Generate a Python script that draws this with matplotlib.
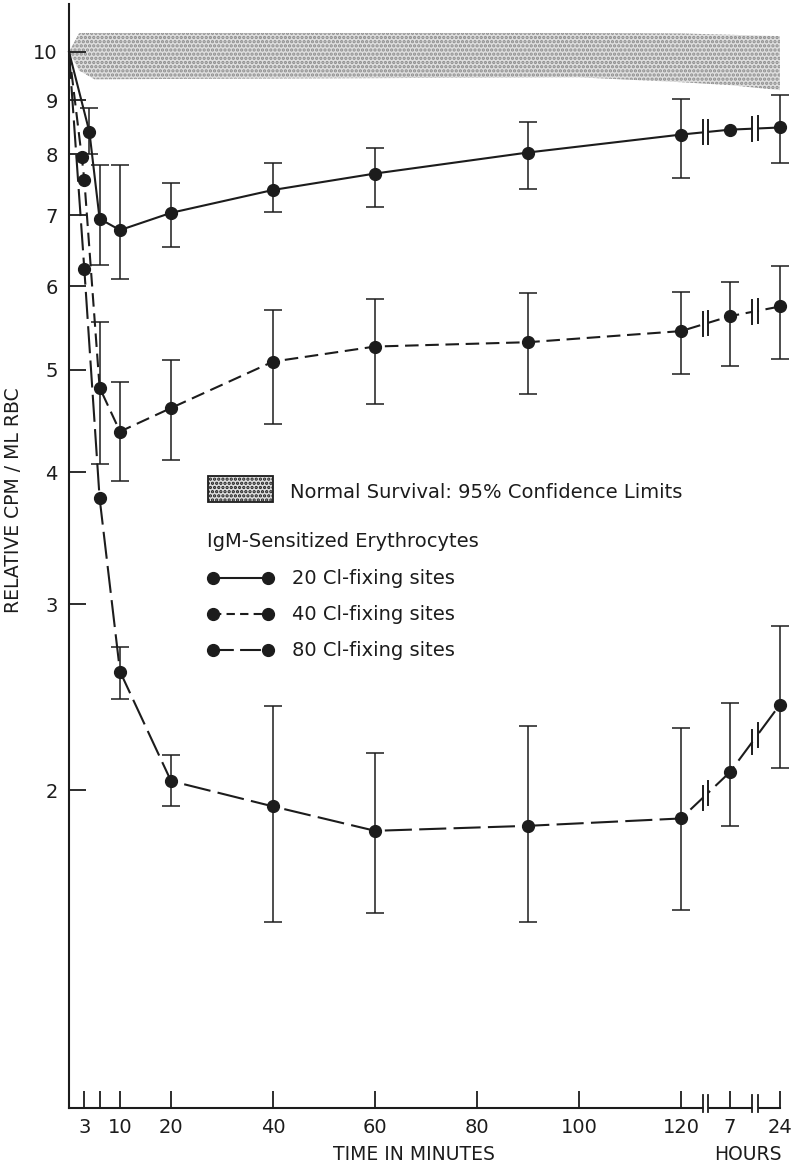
import numpy as np
import matplotlib
matplotlib.use("Agg")
import matplotlib.pyplot as plt
from matplotlib.patches import Rectangle
from matplotlib.lines import Line2D

# ---------------- data ----------------
# time in minutes (7 h = 420 min, 24 h = 1440 min)
t20 = [0, 4, 6, 10, 20, 40, 60, 90, 120, 420, 1440]
v20 = [10, 8.4, 6.95, 6.78, 7.04, 7.40, 7.67, 8.03, 8.35, 8.44, 8.48]
hi20 = [None, 8.85, 7.82, 7.82, 7.52, 7.85, 8.11, 8.58, 9.03, None, 9.11]
lo20 = [None, 8.0, 6.29, 6.10, 6.53, 7.06, 7.13, 7.42, 7.60, None, 7.85]

t40 = [0, 2.5, 3, 6, 10, 20, 40, 60, 90, 120, 420, 1440]
v40 = [10, 7.95, 7.57, 4.81, 4.37, 4.60, 5.09, 5.26, 5.31, 5.44, 5.62, 5.74]
hi40 = [None, None, None, 5.55, 4.87, 5.11, 5.70, 5.83, 5.91, 5.92, 6.06, 6.27]
lo40 = [None, None, None, 4.07, 3.92, 4.11, 4.44, 4.64, 4.74, 4.95, 5.04, 5.12]

t80 = [0, 3, 6, 10, 20, 40, 60, 90, 120, 420, 1440]
v80 = [10, 6.23, 3.78, 2.59, 2.04, 1.93, 1.83, 1.85, 1.88, 2.08, 2.41]
hi80 = [None, None, None, 2.73, 2.16, 2.40, 2.17, 2.30, 2.29, 2.42, 2.86]
lo80 = [None, None, None, 2.44, 1.93, 1.50, 1.53, 1.50, 1.54, 1.85, 2.10]

# normal survival band (95% confidence limits)
band_t = [0, 2, 5, 100, 120, 420, 1440]
band_hi = [10.0, 10.42, 10.42, 10.42, 10.41, 10.38, 10.35]
band_lo = [10.0, 9.6, 9.42, 9.46, 9.36, 9.30, 9.20]

x_ticks = [3, 6, 10, 20, 40, 60, 80, 100, 120, 420, 1440]
x_ticklabels = ["3", "", "10", "20", "40", "60", "80", "100", "120", "7", "24"]
y_ticks = [2, 3, 4, 5, 6, 7, 8, 9, 10]
y_ticklabels = ["2", "3", "4", "5", "6", "7", "8", "9", "10"]

# ---------------- broken time axis ----------------
SRC = np.array([0.0, 120.0, 420.0, 1440.0])
DST = np.array([0.0, 120.0, 129.6, 139.4])


def fwd(t):
    t = np.asarray(t, dtype=float)
    out = np.interp(t, SRC, DST)
    out = np.where(t < 0, t, out)
    out = np.where(t > SRC[-1], DST[-1] + (t - SRC[-1]) * (DST[-1] - DST[-2]) / (SRC[-1] - SRC[-2]), out)
    return out


def inv(p):
    p = np.asarray(p, dtype=float)
    out = np.interp(p, DST, SRC)
    out = np.where(p < 0, p, out)
    out = np.where(p > DST[-1], SRC[-1] + (p - DST[-1]) * (SRC[-1] - SRC[-2]) / (DST[-1] - DST[-2]), out)
    return out


INK = "#1c1c1c"
plt.rcParams["font.family"] = ["DejaVu Sans"]
plt.rcParams["hatch.linewidth"] = 1.6

W, H = 795, 1171
fig = plt.figure(figsize=(W / 100, H / 100), dpi=100)
ax = fig.add_axes([69 / W, (H - 1108) / H, 711 / W, 1104 / H])
ax.set_xscale("function", functions=(fwd, inv))
ax.set_yscale("log")
ax.set_xlim(0, 1440)
ax.set_ylim(1.0, 11.1)

# band
ax.fill_between(band_t, band_lo, band_hi, facecolor="#dedede", hatch="....",
                edgecolor="#8c8c8c", linewidth=0, zorder=1)

series = [
    (t20, v20, hi20, lo20, "-"),
    (t40, v40, hi40, lo40, (0, (6.5, 3.2))),
    (t80, v80, hi80, lo80, (0, (13, 3.5))),
]

for t, v, hi, lo, ls in series:
    ax.plot(t, v, color=INK, lw=1.5, ls=ls, zorder=3, clip_on=False)
    ax.plot(t[1:], v[1:], ls="none", marker="o", ms=8.5, color=INK, zorder=4,
            clip_on=False)
    idx = [i for i in range(len(t)) if hi[i] is not None]
    et = [t[i] for i in idx]
    ev = [v[i] for i in idx]
    err = [[v[i] - lo[i] for i in idx], [hi[i] - v[i] for i in idx]]
    eb = ax.errorbar(et, ev, yerr=err, fmt="none", ecolor=INK, elinewidth=1.1,
                     capsize=6.5, capthick=1.1, zorder=3)
    for art in eb.lines[1] + eb.lines[2]:
        art.set_clip_on(False)

# break marks on each data line
mids = [(DST[1] + DST[2]) / 2, (DST[2] + DST[3]) / 2]
f = 10 ** (12 / 1057)
for t, v, hi, lo, ls in series:
    pt = fwd(t)
    lv = np.log10(v)
    for m in mids:
        xa, xb = inv(m - 0.5), inv(m + 0.5)
        ya = 10 ** np.interp(m - 0.5, pt, lv)
        yb = 10 ** np.interp(m + 0.5, pt, lv)
        ax.plot([xa, xb], [ya, yb], color="white", lw=3.5, solid_capstyle="butt", zorder=5)
        for xx, yy in ((xa, ya), (xb, yb)):
            ax.plot([xx, xx], [yy / f, yy * f], color=INK, lw=1.4, zorder=6)

# axis styling
for s in ("top", "right"):
    ax.spines[s].set_visible(False)
ax.spines["left"].set_linewidth(1.5)
ax.spines["bottom"].set_linewidth(1.5)
ax.spines["left"].set_color(INK)
ax.spines["bottom"].set_color(INK)

ax.set_xticks(x_ticks)
ax.set_xticklabels(x_ticklabels)
ax.set_yticks(y_ticks)
ax.set_yticklabels(y_ticklabels)
ax.yaxis.set_minor_locator(matplotlib.ticker.NullLocator())
ax.xaxis.set_minor_locator(matplotlib.ticker.NullLocator())
ax.tick_params(axis="both", direction="in", length=12, width=1.3, colors=INK,
               labelsize=14)
ax.tick_params(axis="y", pad=8)
ax.tick_params(axis="x", pad=7)

# break marks on the x axis
for m in mids:
    xa, xb = inv(m - 0.5), inv(m + 0.5)
    ax.plot([xa, xb], [1.0, 1.0], color="white", lw=3.5, solid_capstyle="butt",
            zorder=7, clip_on=False)
    for xx in (xa, xb):
        ax.plot([xx, xx], [1.0 / 10 ** (4 / 1057), 1.0 * 10 ** (13 / 1057)],
                color=INK, lw=1.3, zorder=8, clip_on=False)


def fx(px):
    return px / W


def fy(py):
    return 1 - py / H


# axis labels
fig.text(fx(14), fy(500), "RELATIVE CPM / ML RBC", rotation=90, ha="center",
         va="center", fontsize=13.5, color=INK)
fig.text(fx(414), fy(1154), "TIME IN MINUTES", ha="center", va="center",
         fontsize=13.5, color=INK)
fig.text(fx(748), fy(1154), "HOURS", ha="center", va="center",
         fontsize=13.5, color=INK)

# legend (drawn manually)
fig.patches.append(Rectangle((fx(208), fy(502)), fx(273) - fx(208), fy(476) - fy(502),
                             transform=fig.transFigure, facecolor="#dedede",
                             hatch="....", edgecolor=INK, linewidth=1.3))
fig.text(fx(290), fy(492), "Normal Survival: 95% Confidence Limits",
         ha="left", va="center", fontsize=14, color=INK)
fig.text(fx(207), fy(541), "IgM-Sensitized Erythrocytes",
         ha="left", va="center", fontsize=14, color=INK)
leg_rows = [(578, "-", "20 Cl-fixing sites"),
            (614, (0, (4, 2.5)), "40 Cl-fixing sites"),
            (650, (0, (10, 3)), "80 Cl-fixing sites")]
for py, ls, label in leg_rows:
    fig.add_artist(Line2D([fx(213), fx(268)], [fy(py), fy(py)], transform=fig.transFigure,
                          color=INK, lw=1.5, ls=ls, marker="o", ms=8.5))
    fig.text(fx(292), fy(py), label, ha="left", va="center", fontsize=14, color=INK)

fig.savefig("out.png", dpi=100, facecolor="white")
